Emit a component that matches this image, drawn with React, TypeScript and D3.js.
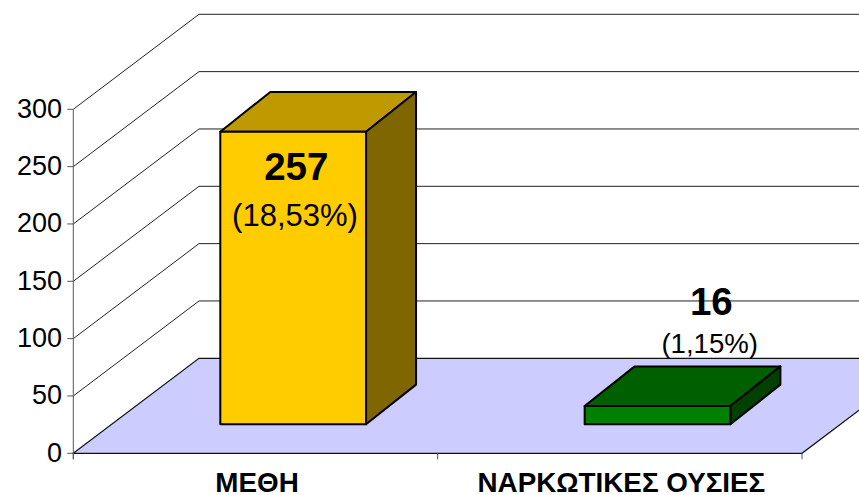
import * as d3 from "d3"

const categories = ["ΜΕΘΗ", "ΝΑΡΚΩΤΙΚΕΣ ΟΥΣΙΕΣ"]
const values = [257, 16]
const percentLabels = ["(18,53%)", "(1,15%)"]
const yTicks = [0, 50, 100, 150, 200, 250, 300]
const frontColors = ["#ffcc00", "#008000"]
const topColors = ["#bf9900", "#006000"]
const sideColors = ["#806600", "#004000"]

const W = 859
const H = 495
const FONT = "'Liberation Sans', Arial, sans-serif"

// oblique projection of the chart box
const DEPTH_X = 125.7
const DEPTH_Y = -95
const BAR_DEPTH_X = 50
const BAR_DEPTH_Y = -39.7
const BAR_OFFSET_X = 37.7
const BAR_OFFSET_Y = -29

const x = d3.scaleBand<string>().domain(categories).range([73.3, 802])
const y = d3.scaleLinear().domain([0, 300]).range([453.3, 109.3])
// bars sit further back in the box, so their units come out slightly shorter
const barH = d3.scaleLinear().domain([0, 300]).range([0, 341.6])

const poly = (pts: [number, number][]) => (d3.line()(pts) ?? "") + "Z"

export default function App() {
  const barW = x.bandwidth() * 0.4
  const [y0] = y.range()
  const [xL, xR] = x.range()

  return (
    <svg
      width={W}
      height={H}
      viewBox={`0 0 ${W} ${H}`}
      style={{ position: "absolute", left: 0, top: 0, background: "#fff" }}
      fontFamily={FONT}
    >
      {/* gridlines: side wall and back wall */}
      {yTicks.slice(1).map((t) => (
        <path
          key={t}
          d={d3.line()([
            [xL, y(t)],
            [xL + DEPTH_X, y(t) + DEPTH_Y],
            [W + 10, y(t) + DEPTH_Y],
          ]) ?? ""}
          fill="none"
          stroke="#222"
          strokeWidth={1}
        />
      ))}

      {/* floor */}
      <path
        d={poly([
          [xL, y0],
          [xL + DEPTH_X, y0 + DEPTH_Y],
          [xR + DEPTH_X, y0 + DEPTH_Y],
          [xR, y0],
        ])}
        fill="#ccccff"
        stroke="#111"
        strokeWidth={1.2}
      />

      {/* axes */}
      <line x1={xL} x2={xL} y1={y(300)} y2={y0 + 6} stroke="#555" strokeWidth={1} />
      {yTicks.map((t) => (
        <g key={t}>
          <line x1={xL - 6} x2={xL} y1={y(t)} y2={y(t)} stroke="#555" strokeWidth={1} />
          <text x={62} y={y(t) + 8.5} textAnchor="end" fontSize={27} fill="#000">
            {t}
          </text>
        </g>
      ))}
      {[xL, xL + x.step(), xR].map((p) => (
        <line key={p} x1={p} x2={p} y1={y0} y2={y0 + 6} stroke="#555" strokeWidth={1} />
      ))}

      {/* bars */}
      {categories.map((c, i) => {
        const left = (x(c) ?? 0) + (x.bandwidth() - barW) / 2 + BAR_OFFSET_X
        const right = left + barW
        const bottom = y0 + BAR_OFFSET_Y
        const top = bottom - barH(values[i])
        const stroke = { stroke: "#000", strokeWidth: 2, strokeLinejoin: "round" as const }
        return (
          <g key={c}>
            <path
              d={poly([
                [left, top],
                [left + BAR_DEPTH_X, top + BAR_DEPTH_Y],
                [right + BAR_DEPTH_X, top + BAR_DEPTH_Y],
                [right, top],
              ])}
              fill={topColors[i]}
              {...stroke}
            />
            <path
              d={poly([
                [right, top],
                [right + BAR_DEPTH_X, top + BAR_DEPTH_Y],
                [right + BAR_DEPTH_X, bottom + BAR_DEPTH_Y],
                [right, bottom],
              ])}
              fill={sideColors[i]}
              {...stroke}
            />
            <path
              d={poly([
                [left, top],
                [right, top],
                [right, bottom],
                [left, bottom],
              ])}
              fill={frontColors[i]}
              {...stroke}
            />
          </g>
        )
      })}

      {/* data labels */}
      <text x={296.3} y={180} textAnchor="middle" fontSize={38.5} fontWeight="bold" fill="#000">
        {values[0]}
      </text>
      <text x={295} y={226} textAnchor="middle" fontSize={31} fill="#000">
        {percentLabels[0]}
      </text>
      <text x={711.3} y={315} textAnchor="middle" fontSize={38.5} fontWeight="bold" fill="#000">
        {values[1]}
      </text>
      <text x={709.7} y={352.5} textAnchor="middle" fontSize={27.6} fill="#000">
        {percentLabels[1]}
      </text>

      {/* category labels */}
      {categories.map((c) => (
        <text
          key={c}
          x={(x(c) ?? 0) + x.bandwidth() / 2 + 1.6}
          y={491.5}
          textAnchor="middle"
          fontSize={27.8}
          fontWeight="bold"
          fill="#000"
        >
          {c}
        </text>
      ))}
    </svg>
  )
}
